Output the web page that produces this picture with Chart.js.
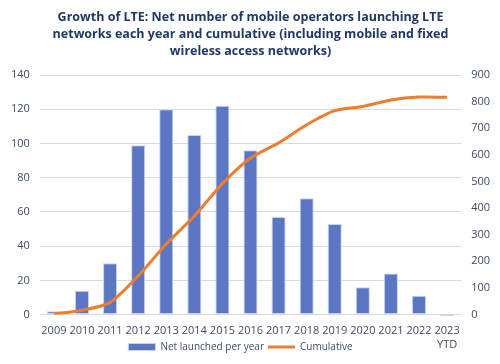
<!DOCTYPE html>
<html>
<head>
<meta charset="utf-8">
<script src="https://cdn.jsdelivr.net/npm/chart.js@4/dist/chart.umd.min.js"></script>
<style>
    html, body { margin: 0; padding: 0; background: #fff; }
    #wrap { width: 500px; height: 364px; }
</style>
</head>
<body>
<div id="wrap"><canvas id="lteChart"></canvas></div>
<script>
// Chart data
const years = ['2009', '2010', '2011', '2012', '2013', '2014', '2015', '2016', '2017', '2018', '2019', '2020', '2021', '2022', ['2023', 'YTD']];
const netLaunched = [2, 14, 30, 99, 120, 105, 122, 96, 57, 68, 53, 16, 24, 11, -1];
const cumulative = [2, 16, 46, 145, 265, 370, 492, 588, 645, 713, 766, 782, 806, 817, 816];

const textColor = '#3d4b69';
const fontFamily = '"Open Sans", sans-serif';

Chart.defaults.font.family = fontFamily;
Chart.defaults.color = textColor;

// the "YTD" line hangs down into the legend row, so don't clip x labels to the axis box
const ytdRoom = {
    id: 'ytdRoom',
    afterLayout(chart) {
        chart.scales.x.bottom = chart.height;
    }
};

const ctx = document.getElementById('lteChart').getContext('2d');
new Chart(ctx, {
    type: 'bar',
    data: {
        labels: years,
        datasets: [
            {
                label: 'Net launched per year',
                data: netLaunched,
                backgroundColor: '#5b77c3',
                borderColor: '#c9d1ec',
                borderWidth: 1,
                borderSkipped: false,
                barPercentage: 0.5,
                categoryPercentage: 1,
                pointStyle: 'rect',
                yAxisID: 'y',
                clip: false,
                order: 2
            },
            {
                type: 'line',
                label: 'Cumulative',
                data: cumulative,
                borderColor: '#ed7d31',
                backgroundColor: '#ed7d31',
                borderWidth: 3,
                tension: 0.25,
                pointRadius: 0,
                pointStyle: 'line',
                yAxisID: 'y1',
                order: 1
            }
        ]
    },
    options: {
        responsive: true,
        maintainAspectRatio: false,
        animation: false,
        layout: {
            padding: { left: 1, right: 0, top: 5, bottom: 2 }
        },
        plugins: {
            title: {
                display: true,
                text: [
                    'Growth of LTE: Net number of mobile operators launching LTE',
                    'networks each year and cumulative (including mobile and fixed',
                    'wireless access networks)'
                ],
                color: '#1f3864',
                font: { size: 12.5, weight: 'bold', lineHeight: 1.36 },
                padding: { top: 4, bottom: 15 }
            },
            legend: {
                position: 'bottom',
                labels: {
                    usePointStyle: true,
                    pointStyleWidth: 27,
                    boxHeight: 7,
                    padding: 4,
                    color: textColor,
                    font: { size: 10 },
                    sort: (a, b) => a.datasetIndex - b.datasetIndex,
                    // extra spacing after the first item, like the original
                    // (zero-width char keeps the spaces from being trimmed)
                    generateLabels: chart => {
                        const items = Chart.defaults.plugins.legend.labels.generateLabels(chart);
                        items[0].text = items[0].text + '\u2003\u2003\u200b';
                        return items;
                    }
                }
            },
            tooltip: { enabled: false }
        },
        scales: {
            x: {
                grid: { display: false },
                border: { display: false },
                ticks: {
                    maxRotation: 0,
                    autoSkip: false,
                    padding: 2,
                    font: { size: 11 }
                },
                afterFit: scale => { scale.height -= 15; }
            },
            y: {
                position: 'left',
                min: 0,
                max: 140,
                ticks: { stepSize: 20, padding: 10, font: { size: 11 } },
                grid: { color: '#d9d9d9', drawTicks: false },
                border: { display: false }
            },
            y1: {
                position: 'right',
                min: 0,
                max: 900,
                ticks: { stepSize: 100, padding: 10, font: { size: 11 } },
                grid: { display: false, drawTicks: false },
                border: { display: false }
            }
        }
    },
    plugins: [ytdRoom]
});
</script>
</body>
</html>
